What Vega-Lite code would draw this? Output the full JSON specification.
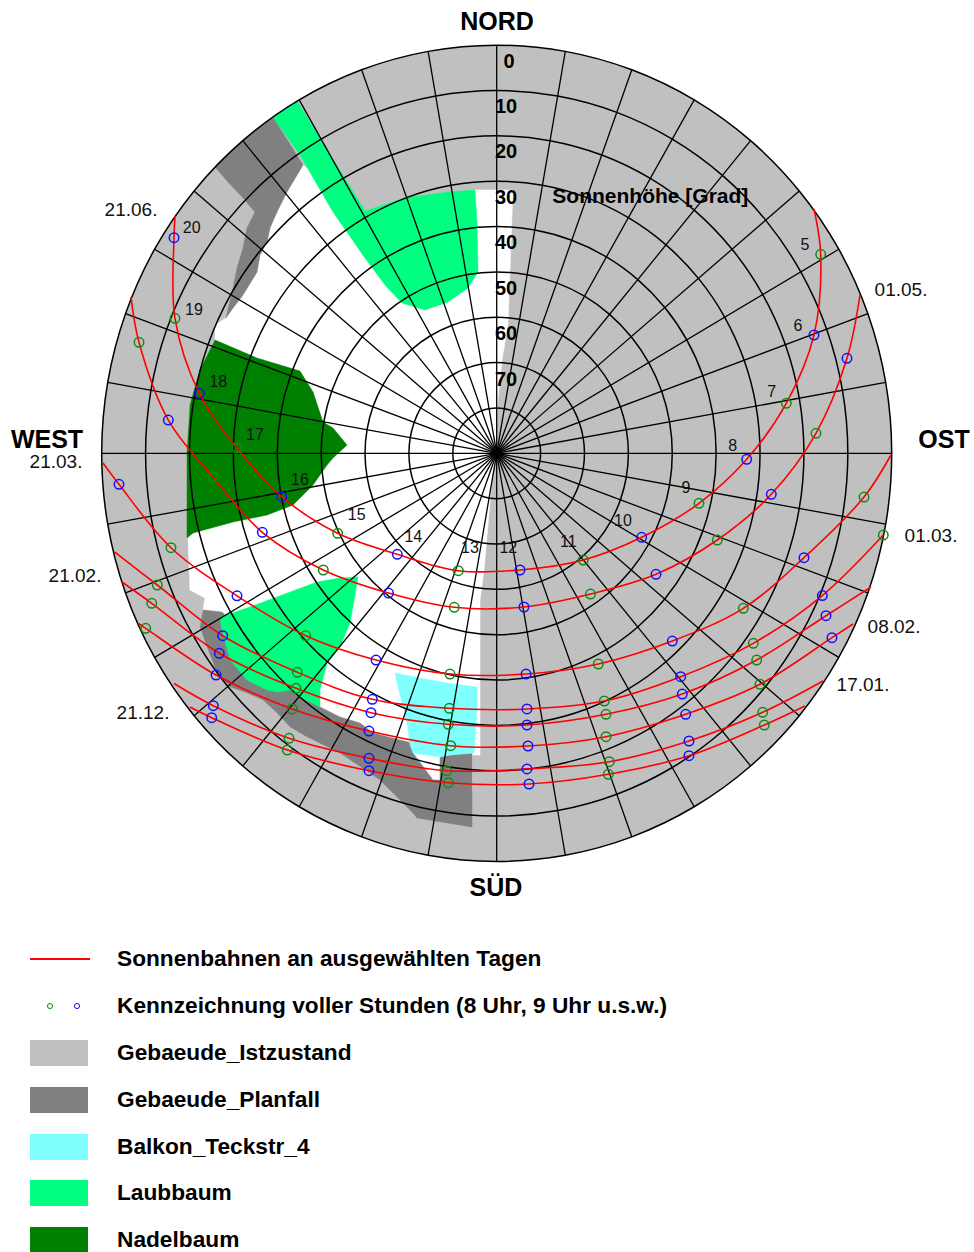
{
"$schema": "https://vega.github.io/schema/vega-lite/v6.json",
"width": 974, "height": 1252, "padding": 0, "autosize": {"type": "none"},
"background": "white",
"config": {"view": {"stroke": null}, "font": "Liberation Sans", "text": {"font": "Liberation Sans"}},
"datasets": {
"grid": [
{"r":90,"i":0,"x":0,"y":90},{"r":90,"i":1,"x":15.63,"y":88.63},{"r":90,"i":2,"x":30.78,"y":84.57},{"r":90,"i":3,"x":45,"y":77.94},{"r":90,"i":4,"x":57.85,"y":68.94},{"r":90,"i":5,"x":68.94,"y":57.85},{"r":90,"i":6,"x":77.94,"y":45},{"r":90,"i":7,"x":84.57,"y":30.78},{"r":90,"i":8,"x":88.63,"y":15.63},{"r":90,"i":9,"x":90,"y":0},{"r":90,"i":10,"x":88.63,"y":-15.63},{"r":90,"i":11,"x":84.57,"y":-30.78},{"r":90,"i":12,"x":77.94,"y":-45},{"r":90,"i":13,"x":68.94,"y":-57.85},{"r":90,"i":14,"x":57.85,"y":-68.94},{"r":90,"i":15,"x":45,"y":-77.94},{"r":90,"i":16,"x":30.78,"y":-84.57},{"r":90,"i":17,"x":15.63,"y":-88.63},{"r":90,"i":18,"x":0,"y":-90},{"r":90,"i":19,"x":-15.63,"y":-88.63},{"r":90,"i":20,"x":-30.78,"y":-84.57},{"r":90,"i":21,"x":-45,"y":-77.94},{"r":90,"i":22,"x":-57.85,"y":-68.94},{"r":90,"i":23,"x":-68.94,"y":-57.85},{"r":90,"i":24,"x":-77.94,"y":-45},{"r":90,"i":25,"x":-84.57,"y":-30.78},{"r":90,"i":26,"x":-88.63,"y":-15.63},{"r":90,"i":27,"x":-90,"y":0},{"r":90,"i":28,"x":-88.63,"y":15.63},{"r":90,"i":29,"x":-84.57,"y":30.78},{"r":90,"i":30,"x":-77.94,"y":45},{"r":90,"i":31,"x":-68.94,"y":57.85},{"r":90,"i":32,"x":-57.85,"y":68.94},{"r":90,"i":33,"x":-45,"y":77.94},{"r":90,"i":34,"x":-30.78,"y":84.57},{"r":90,"i":35,"x":-15.63,"y":88.63},
{"r":80,"i":0,"x":0,"y":80},{"r":80,"i":1,"x":13.89,"y":78.78},{"r":80,"i":2,"x":27.36,"y":75.18},{"r":80,"i":3,"x":40,"y":69.28},{"r":80,"i":4,"x":51.42,"y":61.28},{"r":80,"i":5,"x":61.28,"y":51.42},{"r":80,"i":6,"x":69.28,"y":40},{"r":80,"i":7,"x":75.18,"y":27.36},{"r":80,"i":8,"x":78.78,"y":13.89},{"r":80,"i":9,"x":80,"y":0},{"r":80,"i":10,"x":78.78,"y":-13.89},{"r":80,"i":11,"x":75.18,"y":-27.36},{"r":80,"i":12,"x":69.28,"y":-40},{"r":80,"i":13,"x":61.28,"y":-51.42},{"r":80,"i":14,"x":51.42,"y":-61.28},{"r":80,"i":15,"x":40,"y":-69.28},{"r":80,"i":16,"x":27.36,"y":-75.18},{"r":80,"i":17,"x":13.89,"y":-78.78},{"r":80,"i":18,"x":0,"y":-80},{"r":80,"i":19,"x":-13.89,"y":-78.78},{"r":80,"i":20,"x":-27.36,"y":-75.18},{"r":80,"i":21,"x":-40,"y":-69.28},{"r":80,"i":22,"x":-51.42,"y":-61.28},{"r":80,"i":23,"x":-61.28,"y":-51.42},{"r":80,"i":24,"x":-69.28,"y":-40},{"r":80,"i":25,"x":-75.18,"y":-27.36},{"r":80,"i":26,"x":-78.78,"y":-13.89},{"r":80,"i":27,"x":-80,"y":0},{"r":80,"i":28,"x":-78.78,"y":13.89},{"r":80,"i":29,"x":-75.18,"y":27.36},{"r":80,"i":30,"x":-69.28,"y":40},{"r":80,"i":31,"x":-61.28,"y":51.42},{"r":80,"i":32,"x":-51.42,"y":61.28},{"r":80,"i":33,"x":-40,"y":69.28},{"r":80,"i":34,"x":-27.36,"y":75.18},{"r":80,"i":35,"x":-13.89,"y":78.78},
{"r":70,"i":0,"x":0,"y":70},{"r":70,"i":1,"x":12.16,"y":68.94},{"r":70,"i":2,"x":23.94,"y":65.78},{"r":70,"i":3,"x":35,"y":60.62},{"r":70,"i":4,"x":45,"y":53.62},{"r":70,"i":5,"x":53.62,"y":45},{"r":70,"i":6,"x":60.62,"y":35},{"r":70,"i":7,"x":65.78,"y":23.94},{"r":70,"i":8,"x":68.94,"y":12.16},{"r":70,"i":9,"x":70,"y":0},{"r":70,"i":10,"x":68.94,"y":-12.16},{"r":70,"i":11,"x":65.78,"y":-23.94},{"r":70,"i":12,"x":60.62,"y":-35},{"r":70,"i":13,"x":53.62,"y":-45},{"r":70,"i":14,"x":45,"y":-53.62},{"r":70,"i":15,"x":35,"y":-60.62},{"r":70,"i":16,"x":23.94,"y":-65.78},{"r":70,"i":17,"x":12.16,"y":-68.94},{"r":70,"i":18,"x":0,"y":-70},{"r":70,"i":19,"x":-12.16,"y":-68.94},{"r":70,"i":20,"x":-23.94,"y":-65.78},{"r":70,"i":21,"x":-35,"y":-60.62},{"r":70,"i":22,"x":-45,"y":-53.62},{"r":70,"i":23,"x":-53.62,"y":-45},{"r":70,"i":24,"x":-60.62,"y":-35},{"r":70,"i":25,"x":-65.78,"y":-23.94},{"r":70,"i":26,"x":-68.94,"y":-12.16},{"r":70,"i":27,"x":-70,"y":0},{"r":70,"i":28,"x":-68.94,"y":12.16},{"r":70,"i":29,"x":-65.78,"y":23.94},{"r":70,"i":30,"x":-60.62,"y":35},{"r":70,"i":31,"x":-53.62,"y":45},{"r":70,"i":32,"x":-45,"y":53.62},{"r":70,"i":33,"x":-35,"y":60.62},{"r":70,"i":34,"x":-23.94,"y":65.78},{"r":70,"i":35,"x":-12.16,"y":68.94},
{"r":60,"i":0,"x":0,"y":60},{"r":60,"i":1,"x":10.42,"y":59.09},{"r":60,"i":2,"x":20.52,"y":56.38},{"r":60,"i":3,"x":30,"y":51.96},{"r":60,"i":4,"x":38.57,"y":45.96},{"r":60,"i":5,"x":45.96,"y":38.57},{"r":60,"i":6,"x":51.96,"y":30},{"r":60,"i":7,"x":56.38,"y":20.52},{"r":60,"i":8,"x":59.09,"y":10.42},{"r":60,"i":9,"x":60,"y":0},{"r":60,"i":10,"x":59.09,"y":-10.42},{"r":60,"i":11,"x":56.38,"y":-20.52},{"r":60,"i":12,"x":51.96,"y":-30},{"r":60,"i":13,"x":45.96,"y":-38.57},{"r":60,"i":14,"x":38.57,"y":-45.96},{"r":60,"i":15,"x":30,"y":-51.96},{"r":60,"i":16,"x":20.52,"y":-56.38},{"r":60,"i":17,"x":10.42,"y":-59.09},{"r":60,"i":18,"x":0,"y":-60},{"r":60,"i":19,"x":-10.42,"y":-59.09},{"r":60,"i":20,"x":-20.52,"y":-56.38},{"r":60,"i":21,"x":-30,"y":-51.96},{"r":60,"i":22,"x":-38.57,"y":-45.96},{"r":60,"i":23,"x":-45.96,"y":-38.57},{"r":60,"i":24,"x":-51.96,"y":-30},{"r":60,"i":25,"x":-56.38,"y":-20.52},{"r":60,"i":26,"x":-59.09,"y":-10.42},{"r":60,"i":27,"x":-60,"y":0},{"r":60,"i":28,"x":-59.09,"y":10.42},{"r":60,"i":29,"x":-56.38,"y":20.52},{"r":60,"i":30,"x":-51.96,"y":30},{"r":60,"i":31,"x":-45.96,"y":38.57},{"r":60,"i":32,"x":-38.57,"y":45.96},{"r":60,"i":33,"x":-30,"y":51.96},{"r":60,"i":34,"x":-20.52,"y":56.38},{"r":60,"i":35,"x":-10.42,"y":59.09},
{"r":50,"i":0,"x":0,"y":50},{"r":50,"i":1,"x":8.68,"y":49.24},{"r":50,"i":2,"x":17.1,"y":46.98},{"r":50,"i":3,"x":25,"y":43.3},{"r":50,"i":4,"x":32.14,"y":38.3},{"r":50,"i":5,"x":38.3,"y":32.14},{"r":50,"i":6,"x":43.3,"y":25},{"r":50,"i":7,"x":46.98,"y":17.1},{"r":50,"i":8,"x":49.24,"y":8.68},{"r":50,"i":9,"x":50,"y":0},{"r":50,"i":10,"x":49.24,"y":-8.68},{"r":50,"i":11,"x":46.98,"y":-17.1},{"r":50,"i":12,"x":43.3,"y":-25},{"r":50,"i":13,"x":38.3,"y":-32.14},{"r":50,"i":14,"x":32.14,"y":-38.3},{"r":50,"i":15,"x":25,"y":-43.3},{"r":50,"i":16,"x":17.1,"y":-46.98},{"r":50,"i":17,"x":8.68,"y":-49.24},{"r":50,"i":18,"x":0,"y":-50},{"r":50,"i":19,"x":-8.68,"y":-49.24},{"r":50,"i":20,"x":-17.1,"y":-46.98},{"r":50,"i":21,"x":-25,"y":-43.3},{"r":50,"i":22,"x":-32.14,"y":-38.3},{"r":50,"i":23,"x":-38.3,"y":-32.14},{"r":50,"i":24,"x":-43.3,"y":-25},{"r":50,"i":25,"x":-46.98,"y":-17.1},{"r":50,"i":26,"x":-49.24,"y":-8.68},{"r":50,"i":27,"x":-50,"y":0},{"r":50,"i":28,"x":-49.24,"y":8.68},{"r":50,"i":29,"x":-46.98,"y":17.1},{"r":50,"i":30,"x":-43.3,"y":25},{"r":50,"i":31,"x":-38.3,"y":32.14},{"r":50,"i":32,"x":-32.14,"y":38.3},{"r":50,"i":33,"x":-25,"y":43.3},{"r":50,"i":34,"x":-17.1,"y":46.98},{"r":50,"i":35,"x":-8.68,"y":49.24},
{"r":40,"i":0,"x":0,"y":40},{"r":40,"i":1,"x":6.95,"y":39.39},{"r":40,"i":2,"x":13.68,"y":37.59},{"r":40,"i":3,"x":20,"y":34.64},{"r":40,"i":4,"x":25.71,"y":30.64},{"r":40,"i":5,"x":30.64,"y":25.71},{"r":40,"i":6,"x":34.64,"y":20},{"r":40,"i":7,"x":37.59,"y":13.68},{"r":40,"i":8,"x":39.39,"y":6.95},{"r":40,"i":9,"x":40,"y":0},{"r":40,"i":10,"x":39.39,"y":-6.95},{"r":40,"i":11,"x":37.59,"y":-13.68},{"r":40,"i":12,"x":34.64,"y":-20},{"r":40,"i":13,"x":30.64,"y":-25.71},{"r":40,"i":14,"x":25.71,"y":-30.64},{"r":40,"i":15,"x":20,"y":-34.64},{"r":40,"i":16,"x":13.68,"y":-37.59},{"r":40,"i":17,"x":6.95,"y":-39.39},{"r":40,"i":18,"x":0,"y":-40},{"r":40,"i":19,"x":-6.95,"y":-39.39},{"r":40,"i":20,"x":-13.68,"y":-37.59},{"r":40,"i":21,"x":-20,"y":-34.64},{"r":40,"i":22,"x":-25.71,"y":-30.64},{"r":40,"i":23,"x":-30.64,"y":-25.71},{"r":40,"i":24,"x":-34.64,"y":-20},{"r":40,"i":25,"x":-37.59,"y":-13.68},{"r":40,"i":26,"x":-39.39,"y":-6.95},{"r":40,"i":27,"x":-40,"y":0},{"r":40,"i":28,"x":-39.39,"y":6.95},{"r":40,"i":29,"x":-37.59,"y":13.68},{"r":40,"i":30,"x":-34.64,"y":20},{"r":40,"i":31,"x":-30.64,"y":25.71},{"r":40,"i":32,"x":-25.71,"y":30.64},{"r":40,"i":33,"x":-20,"y":34.64},{"r":40,"i":34,"x":-13.68,"y":37.59},{"r":40,"i":35,"x":-6.95,"y":39.39},
{"r":30,"i":0,"x":0,"y":30},{"r":30,"i":1,"x":5.21,"y":29.54},{"r":30,"i":2,"x":10.26,"y":28.19},{"r":30,"i":3,"x":15,"y":25.98},{"r":30,"i":4,"x":19.28,"y":22.98},{"r":30,"i":5,"x":22.98,"y":19.28},{"r":30,"i":6,"x":25.98,"y":15},{"r":30,"i":7,"x":28.19,"y":10.26},{"r":30,"i":8,"x":29.54,"y":5.21},{"r":30,"i":9,"x":30,"y":0},{"r":30,"i":10,"x":29.54,"y":-5.21},{"r":30,"i":11,"x":28.19,"y":-10.26},{"r":30,"i":12,"x":25.98,"y":-15},{"r":30,"i":13,"x":22.98,"y":-19.28},{"r":30,"i":14,"x":19.28,"y":-22.98},{"r":30,"i":15,"x":15,"y":-25.98},{"r":30,"i":16,"x":10.26,"y":-28.19},{"r":30,"i":17,"x":5.21,"y":-29.54},{"r":30,"i":18,"x":0,"y":-30},{"r":30,"i":19,"x":-5.21,"y":-29.54},{"r":30,"i":20,"x":-10.26,"y":-28.19},{"r":30,"i":21,"x":-15,"y":-25.98},{"r":30,"i":22,"x":-19.28,"y":-22.98},{"r":30,"i":23,"x":-22.98,"y":-19.28},{"r":30,"i":24,"x":-25.98,"y":-15},{"r":30,"i":25,"x":-28.19,"y":-10.26},{"r":30,"i":26,"x":-29.54,"y":-5.21},{"r":30,"i":27,"x":-30,"y":0},{"r":30,"i":28,"x":-29.54,"y":5.21},{"r":30,"i":29,"x":-28.19,"y":10.26},{"r":30,"i":30,"x":-25.98,"y":15},{"r":30,"i":31,"x":-22.98,"y":19.28},{"r":30,"i":32,"x":-19.28,"y":22.98},{"r":30,"i":33,"x":-15,"y":25.98},{"r":30,"i":34,"x":-10.26,"y":28.19},{"r":30,"i":35,"x":-5.21,"y":29.54},
{"r":20,"i":0,"x":0,"y":20},{"r":20,"i":1,"x":3.47,"y":19.7},{"r":20,"i":2,"x":6.84,"y":18.79},{"r":20,"i":3,"x":10,"y":17.32},{"r":20,"i":4,"x":12.86,"y":15.32},{"r":20,"i":5,"x":15.32,"y":12.86},{"r":20,"i":6,"x":17.32,"y":10},{"r":20,"i":7,"x":18.79,"y":6.84},{"r":20,"i":8,"x":19.7,"y":3.47},{"r":20,"i":9,"x":20,"y":0},{"r":20,"i":10,"x":19.7,"y":-3.47},{"r":20,"i":11,"x":18.79,"y":-6.84},{"r":20,"i":12,"x":17.32,"y":-10},{"r":20,"i":13,"x":15.32,"y":-12.86},{"r":20,"i":14,"x":12.86,"y":-15.32},{"r":20,"i":15,"x":10,"y":-17.32},{"r":20,"i":16,"x":6.84,"y":-18.79},{"r":20,"i":17,"x":3.47,"y":-19.7},{"r":20,"i":18,"x":0,"y":-20},{"r":20,"i":19,"x":-3.47,"y":-19.7},{"r":20,"i":20,"x":-6.84,"y":-18.79},{"r":20,"i":21,"x":-10,"y":-17.32},{"r":20,"i":22,"x":-12.86,"y":-15.32},{"r":20,"i":23,"x":-15.32,"y":-12.86},{"r":20,"i":24,"x":-17.32,"y":-10},{"r":20,"i":25,"x":-18.79,"y":-6.84},{"r":20,"i":26,"x":-19.7,"y":-3.47},{"r":20,"i":27,"x":-20,"y":0},{"r":20,"i":28,"x":-19.7,"y":3.47},{"r":20,"i":29,"x":-18.79,"y":6.84},{"r":20,"i":30,"x":-17.32,"y":10},{"r":20,"i":31,"x":-15.32,"y":12.86},{"r":20,"i":32,"x":-12.86,"y":15.32},{"r":20,"i":33,"x":-10,"y":17.32},{"r":20,"i":34,"x":-6.84,"y":18.79},{"r":20,"i":35,"x":-3.47,"y":19.7},
{"r":10,"i":0,"x":0,"y":10},{"r":10,"i":1,"x":1.74,"y":9.85},{"r":10,"i":2,"x":3.42,"y":9.4},{"r":10,"i":3,"x":5,"y":8.66},{"r":10,"i":4,"x":6.43,"y":7.66},{"r":10,"i":5,"x":7.66,"y":6.43},{"r":10,"i":6,"x":8.66,"y":5},{"r":10,"i":7,"x":9.4,"y":3.42},{"r":10,"i":8,"x":9.85,"y":1.74},{"r":10,"i":9,"x":10,"y":0},{"r":10,"i":10,"x":9.85,"y":-1.74},{"r":10,"i":11,"x":9.4,"y":-3.42},{"r":10,"i":12,"x":8.66,"y":-5},{"r":10,"i":13,"x":7.66,"y":-6.43},{"r":10,"i":14,"x":6.43,"y":-7.66},{"r":10,"i":15,"x":5,"y":-8.66},{"r":10,"i":16,"x":3.42,"y":-9.4},{"r":10,"i":17,"x":1.74,"y":-9.85},{"r":10,"i":18,"x":0,"y":-10},{"r":10,"i":19,"x":-1.74,"y":-9.85},{"r":10,"i":20,"x":-3.42,"y":-9.4},{"r":10,"i":21,"x":-5,"y":-8.66},{"r":10,"i":22,"x":-6.43,"y":-7.66},{"r":10,"i":23,"x":-7.66,"y":-6.43},{"r":10,"i":24,"x":-8.66,"y":-5},{"r":10,"i":25,"x":-9.4,"y":-3.42},{"r":10,"i":26,"x":-9.85,"y":-1.74},{"r":10,"i":27,"x":-10,"y":0},{"r":10,"i":28,"x":-9.85,"y":1.74},{"r":10,"i":29,"x":-9.4,"y":3.42},{"r":10,"i":30,"x":-8.66,"y":5},{"r":10,"i":31,"x":-7.66,"y":6.43},{"r":10,"i":32,"x":-6.43,"y":7.66},{"r":10,"i":33,"x":-5,"y":8.66},{"r":10,"i":34,"x":-3.42,"y":9.4},{"r":10,"i":35,"x":-1.74,"y":9.85}
],
"fills": [
{"g":"white","i":1,"x":-4.94,"y":58.06},{"g":"white","i":2,"x":3.71,"y":58.06},{"g":"white","i":3,"x":2.57,"y":28.29},{"g":"white","i":4,"x":1.21,"y":20.57},{"g":"white","i":5,"x":0.07,"y":9.55},{"g":"white","i":6,"x":-0.16,"y":0.07},{"g":"white","i":7,"x":-1.07,"y":-5.89},{"g":"white","i":8,"x":-1.98,"y":-15.81},{"g":"white","i":9,"x":-2.89,"y":-25.73},{"g":"white","i":10,"x":-3.8,"y":-32.35},{"g":"white","i":11,"x":-3.8,"y":-66.53},{"g":"white","i":12,"x":-5.63,"y":-66.53},{"g":"white","i":13,"x":-5.63,"y":-74.25},{"g":"white","i":14,"x":-19.07,"y":-74.25},{"g":"white","i":15,"x":-26.59,"y":-72.04},{"g":"white","i":16,"x":-35.7,"y":-66.09},{"g":"white","i":17,"x":-43.22,"y":-62.56},{"g":"white","i":18,"x":-47.09,"y":-60.35},{"g":"white","i":19,"x":-50.06,"y":-57.27},{"g":"white","i":20,"x":-53.25,"y":-54.4},{"g":"white","i":21,"x":-56.89,"y":-52.86},{"g":"white","i":22,"x":-60.76,"y":-51.53},{"g":"white","i":23,"x":-63.73,"y":-48.45},{"g":"white","i":24,"x":-66.01,"y":-42.71},{"g":"white","i":25,"x":-67.6,"y":-38.3},{"g":"white","i":26,"x":-66.92,"y":-34.55},{"g":"white","i":27,"x":-66.46,"y":-31.91},{"g":"white","i":28,"x":-69.88,"y":-30.14},{"g":"white","i":29,"x":-70.33,"y":-18.68},{"g":"white","i":30,"x":-70.56,"y":0.29},{"g":"white","i":31,"x":-69.88,"y":10.65},{"g":"white","i":32,"x":-64.18,"y":24.98},{"g":"white","i":33,"x":-64.18,"y":28.29},{"g":"white","i":34,"x":-61.68,"y":29.84},{"g":"white","i":35,"x":-60.08,"y":32.04},{"g":"white","i":36,"x":-57.8,"y":34.91},{"g":"white","i":37,"x":-54.61,"y":39.98},{"g":"white","i":38,"x":-53.93,"y":43.73},{"g":"white","i":39,"x":-52.33,"y":46.59},{"g":"white","i":40,"x":-51.65,"y":49.68},{"g":"white","i":41,"x":-50.06,"y":53.21},{"g":"white","i":42,"x":-47.78,"y":57.62},{"g":"white","i":43,"x":-44.13,"y":63.57},{"g":"white","i":44,"x":-30.01,"y":53.43},
{"g":"dgNW","i":1,"x":-64.18,"y":63.13},{"g":"dgNW","i":2,"x":-57.58,"y":69.09},{"g":"dgNW","i":3,"x":-50.97,"y":74.16},{"g":"dgNW","i":4,"x":-44.13,"y":63.57},{"g":"dgNW","i":5,"x":-47.78,"y":57.62},{"g":"dgNW","i":6,"x":-50.06,"y":53.21},{"g":"dgNW","i":7,"x":-51.65,"y":49.68},{"g":"dgNW","i":8,"x":-52.33,"y":46.59},{"g":"dgNW","i":9,"x":-53.93,"y":43.73},{"g":"dgNW","i":10,"x":-54.61,"y":39.98},{"g":"dgNW","i":11,"x":-57.8,"y":34.91},{"g":"dgNW","i":12,"x":-60.08,"y":32.04},{"g":"dgNW","i":13,"x":-61.68,"y":29.84},{"g":"dgNW","i":14,"x":-60.08,"y":36.45},{"g":"dgNW","i":15,"x":-59.17,"y":40.86},{"g":"dgNW","i":16,"x":-57.8,"y":45.27},{"g":"dgNW","i":17,"x":-56.89,"y":49.68},{"g":"dgNW","i":18,"x":-55.07,"y":53.21},{"g":"dgNW","i":19,"x":-57.8,"y":56.3},{"g":"dgNW","i":20,"x":-61.22,"y":59.82},
{"g":"dgSW","i":1,"x":-66.92,"y":-34.55},{"g":"dgSW","i":2,"x":-62.59,"y":-35.0},{"g":"dgSW","i":3,"x":-40.26,"y":-55.94},{"g":"dgSW","i":4,"x":-35.7,"y":-58.15},{"g":"dgSW","i":5,"x":-31.15,"y":-59.47},{"g":"dgSW","i":6,"x":-28.18,"y":-61.68},{"g":"dgSW","i":7,"x":-22.03,"y":-63.22},{"g":"dgSW","i":8,"x":-19.3,"y":-63.88},{"g":"dgSW","i":9,"x":-19.07,"y":-66.09},{"g":"dgSW","i":10,"x":-14.51,"y":-72.04},{"g":"dgSW","i":11,"x":-12.92,"y":-72.04},{"g":"dgSW","i":12,"x":-12.92,"y":-66.97},{"g":"dgSW","i":13,"x":-10.64,"y":-66.53},{"g":"dgSW","i":14,"x":-5.63,"y":-66.09},{"g":"dgSW","i":15,"x":-5.63,"y":-82.4},{"g":"dgSW","i":16,"x":-18.16,"y":-80.42},{"g":"dgSW","i":17,"x":-19.07,"y":-79.32},{"g":"dgSW","i":18,"x":-26.59,"y":-72.04},{"g":"dgSW","i":19,"x":-35.7,"y":-66.09},{"g":"dgSW","i":20,"x":-43.22,"y":-62.56},{"g":"dgSW","i":21,"x":-47.09,"y":-60.35},{"g":"dgSW","i":22,"x":-50.06,"y":-57.27},{"g":"dgSW","i":23,"x":-53.25,"y":-54.4},{"g":"dgSW","i":24,"x":-56.89,"y":-52.86},{"g":"dgSW","i":25,"x":-60.76,"y":-51.53},{"g":"dgSW","i":26,"x":-63.73,"y":-48.45},{"g":"dgSW","i":27,"x":-66.01,"y":-42.71},{"g":"dgSW","i":28,"x":-67.6,"y":-38.3},
{"g":"cyan","i":1,"x":-23.17,"y":-48.45},{"g":"cyan","i":2,"x":-17.48,"y":-49.55},{"g":"cyan","i":3,"x":-11.32,"y":-50.65},{"g":"cyan","i":4,"x":-4.49,"y":-51.53},{"g":"cyan","i":5,"x":-4.49,"y":-56.61},{"g":"cyan","i":6,"x":-5.17,"y":-66.09},{"g":"cyan","i":7,"x":-10.64,"y":-66.53},{"g":"cyan","i":8,"x":-12.92,"y":-66.97},{"g":"cyan","i":9,"x":-19.07,"y":-66.09},{"g":"cyan","i":10,"x":-19.75,"y":-64.32},{"g":"cyan","i":11,"x":-20.44,"y":-59.25},{"g":"cyan","i":12,"x":-22.03,"y":-53.3},
{"g":"laubN","i":1,"x":-50.97,"y":74.16},{"g":"laubN","i":2,"x":-45.5,"y":77.69},{"g":"laubN","i":3,"x":-30.01,"y":53.43},{"g":"laubN","i":4,"x":-20.89,"y":56.3},{"g":"laubN","i":5,"x":-11.1,"y":57.62},{"g":"laubN","i":6,"x":-4.94,"y":58.06},{"g":"laubN","i":7,"x":-4.49,"y":51.0},{"g":"laubN","i":8,"x":-4.26,"y":39.98},{"g":"laubN","i":9,"x":-6.54,"y":36.45},{"g":"laubN","i":10,"x":-11.1,"y":33.36},{"g":"laubN","i":11,"x":-16.34,"y":31.6},{"g":"laubN","i":12,"x":-21.58,"y":33.14},{"g":"laubN","i":13,"x":-25.45,"y":37.11},{"g":"laubN","i":14,"x":-30.01,"y":43.07},{"g":"laubN","i":15,"x":-37.3,"y":53.21},{"g":"laubN","i":16,"x":-44.82,"y":65.78},
{"g":"laubSW","i":1,"x":-63.04,"y":-36.1},{"g":"laubSW","i":2,"x":-56.21,"y":-33.89},{"g":"laubSW","i":3,"x":-40.94,"y":-28.38},{"g":"laubSW","i":4,"x":-35.7,"y":-27.5},{"g":"laubSW","i":5,"x":-31.6,"y":-27.28},{"g":"laubSW","i":6,"x":-32.29,"y":-31.25},{"g":"laubSW","i":7,"x":-33.42,"y":-37.42},{"g":"laubSW","i":8,"x":-35.7,"y":-42.71},{"g":"laubSW","i":9,"x":-38.66,"y":-46.24},{"g":"laubSW","i":10,"x":-40.26,"y":-52.19},{"g":"laubSW","i":11,"x":-40.26,"y":-55.94},{"g":"laubSW","i":12,"x":-44.82,"y":-53.74},{"g":"laubSW","i":13,"x":-47.09,"y":-52.19},{"g":"laubSW","i":14,"x":-50.06,"y":-52.64},{"g":"laubSW","i":15,"x":-52.33,"y":-52.19},{"g":"laubSW","i":16,"x":-56.89,"y":-49.99},{"g":"laubSW","i":17,"x":-60.76,"y":-45.58},{"g":"laubSW","i":18,"x":-62.59,"y":-38.96},
{"g":"nadel","i":1,"x":-64.18,"y":24.98},{"g":"nadel","i":2,"x":-54.61,"y":21.01},{"g":"nadel","i":3,"x":-44.82,"y":18.15},{"g":"nadel","i":4,"x":-41.85,"y":13.52},{"g":"nadel","i":5,"x":-39.58,"y":6.9},{"g":"nadel","i":6,"x":-37.3,"y":5.58},{"g":"nadel","i":7,"x":-34.11,"y":1.83},{"g":"nadel","i":8,"x":-37.3,"y":-1.04},{"g":"nadel","i":9,"x":-38.66,"y":-2.58},{"g":"nadel","i":10,"x":-41.85,"y":-6.99},{"g":"nadel","i":11,"x":-46.41,"y":-11.4},{"g":"nadel","i":12,"x":-52.33,"y":-13.61},{"g":"nadel","i":13,"x":-60.08,"y":-15.15},{"g":"nadel","i":14,"x":-69.19,"y":-17.57},{"g":"nadel","i":15,"x":-70.56,"y":-18.68},{"g":"nadel","i":16,"x":-70.56,"y":0.29},{"g":"nadel","i":17,"x":-69.88,"y":10.65},{"g":"nadel","i":18,"x":-67.6,"y":18.37}
],
"sun": [
{"d":"21.06.","i":0,"k":"e","x":72.29,"y":53.87},{"d":"21.06.","i":1,"k":"h","h":5,"x":73.82,"y":43.88},{"d":"21.06.","i":2,"k":"h","h":6,"x":72.29,"y":26.09},{"d":"21.06.","i":3,"k":"h","h":7,"x":65.98,"y":11.03},{"d":"21.06.","i":4,"k":"h","h":8,"x":56.96,"y":-1.32},{"d":"21.06.","i":5,"k":"h","h":9,"x":46.09,"y":-11.03},{"d":"21.06.","i":6,"k":"h","h":10,"x":33.04,"y":-18.52},{"d":"21.06.","i":7,"k":"h","h":11,"x":19.73,"y":-23.53},{"d":"21.06.","i":8,"k":"h","h":12,"x":5.31,"y":-25.73},{"d":"21.06.","i":9,"k":"h","h":13,"x":-8.75,"y":-25.89},{"d":"21.06.","i":10,"k":"h","h":14,"x":-22.65,"y":-22.27},{"d":"21.06.","i":11,"k":"h","h":15,"x":-36.23,"y":-17.64},{"d":"21.06.","i":12,"k":"h","h":16,"x":-48.99,"y":-9.57},{"d":"21.06.","i":13,"k":"h","h":17,"x":-59.17,"y":1.17},{"d":"21.06.","i":14,"k":"h","h":18,"x":-67.76,"y":13.23},{"d":"21.06.","i":15,"k":"h","h":19,"x":-73.3,"y":29.77},{"d":"21.06.","i":16,"k":"h","h":20,"x":-73.52,"y":47.54},{"d":"21.06.","i":17,"k":"e","x":-73.3,"y":52.33},
{"d":"01.05.","i":0,"k":"e","x":82.77,"y":34.91},{"d":"01.05.","i":1,"k":"h","h":6,"x":79.81,"y":20.95},{"d":"01.05.","i":2,"k":"h","h":7,"x":72.75,"y":4.41},{"d":"01.05.","i":3,"k":"h","h":8,"x":62.56,"y":-9.04},{"d":"01.05.","i":4,"k":"h","h":9,"x":50.26,"y":-19.12},{"d":"01.05.","i":5,"k":"h","h":10,"x":36.3,"y":-26.68},{"d":"01.05.","i":6,"k":"h","h":11,"x":21.37,"y":-31.03},{"d":"01.05.","i":7,"k":"h","h":12,"x":6.22,"y":-33.89},{"d":"01.05.","i":8,"k":"h","h":13,"x":-9.66,"y":-33.96},{"d":"01.05.","i":9,"k":"h","h":14,"x":-24.65,"y":-30.81},{"d":"01.05.","i":10,"k":"h","h":15,"x":-39.51,"y":-25.73},{"d":"01.05.","i":11,"k":"h","h":16,"x":-53.41,"y":-17.42},{"d":"01.05.","i":12,"k":"h","h":17,"x":-64.64,"y":-5.23},{"d":"01.05.","i":13,"k":"h","h":18,"x":-74.82,"y":7.34},{"d":"01.05.","i":14,"k":"h","h":19,"x":-81.5,"y":24.48},{"d":"01.05.","i":15,"k":"e","x":-83.32,"y":34.47},
{"d":"21.03.","i":0,"k":"e","x":89.84,"y":-0.37},{"d":"21.03.","i":1,"k":"h","h":7,"x":83.69,"y":-9.64},{"d":"21.03.","i":2,"k":"h","h":8,"x":70.01,"y":-23.02},{"d":"21.03.","i":3,"k":"h","h":9,"x":56.19,"y":-34.18},{"d":"21.03.","i":4,"k":"h","h":10,"x":40.01,"y":-41.39},{"d":"21.03.","i":5,"k":"h","h":11,"x":23.15,"y":-46.46},{"d":"21.03.","i":6,"k":"h","h":12,"x":6.68,"y":-48.67},{"d":"21.03.","i":7,"k":"h","h":13,"x":-10.64,"y":-48.67},{"d":"21.03.","i":8,"k":"h","h":14,"x":-27.5,"y":-45.58},{"d":"21.03.","i":9,"k":"h","h":15,"x":-43.52,"y":-40.22},{"d":"21.03.","i":10,"k":"h","h":16,"x":-59.17,"y":-31.42},{"d":"21.03.","i":11,"k":"h","h":17,"x":-74.21,"y":-20.82},{"d":"21.03.","i":12,"k":"h","h":18,"x":-86.06,"y":-6.84},{"d":"21.03.","i":13,"k":"e","x":-89.7,"y":-2.14},
{"d":"01.03.","i":0,"k":"h","h":7,"x":88.08,"y":-18.02},{"d":"01.03.","i":1,"k":"h","h":8,"x":74.19,"y":-31.36},{"d":"01.03.","i":2,"k":"h","h":9,"x":58.46,"y":-41.9},{"d":"01.03.","i":3,"k":"h","h":10,"x":41.92,"y":-49.26},{"d":"01.03.","i":4,"k":"h","h":11,"x":24.52,"y":-54.62},{"d":"01.03.","i":5,"k":"h","h":12,"x":6.9,"y":-56.38},{"d":"01.03.","i":6,"k":"h","h":13,"x":-10.8,"y":-56.23},{"d":"01.03.","i":7,"k":"h","h":14,"x":-28.34,"y":-54.25},{"d":"01.03.","i":8,"k":"h","h":15,"x":-45.43,"y":-48.29},{"d":"01.03.","i":9,"k":"h","h":16,"x":-62.43,"y":-40.22},{"d":"01.03.","i":10,"k":"h","h":17,"x":-77.33,"y":-29.04},{"d":"01.03.","i":11,"k":"e","x":-87.08,"y":-21.76},
{"d":"21.02.","i":0,"k":"e","x":85.28,"y":-29.48},{"d":"21.02.","i":1,"k":"h","h":8,"x":75.03,"y":-35.81},{"d":"21.02.","i":2,"k":"h","h":9,"x":59.24,"y":-45.58},{"d":"21.02.","i":3,"k":"h","h":10,"x":42.29,"y":-53.08},{"d":"21.02.","i":4,"k":"h","h":11,"x":24.9,"y":-57.55},{"d":"21.02.","i":5,"k":"h","h":12,"x":6.9,"y":-59.91},{"d":"21.02.","i":6,"k":"h","h":13,"x":-11.03,"y":-59.76},{"d":"21.02.","i":7,"k":"h","h":14,"x":-28.64,"y":-57.2},{"d":"21.02.","i":8,"k":"h","h":15,"x":-45.73,"y":-51.82},{"d":"21.02.","i":9,"k":"h","h":16,"x":-63.2,"y":-44.1},{"d":"21.02.","i":10,"k":"h","h":17,"x":-78.6,"y":-33.08},{"d":"21.02.","i":11,"k":"e","x":-85.37,"y":-28.38},
{"d":"08.02.","i":0,"k":"e","x":81.18,"y":-37.64},{"d":"08.02.","i":1,"k":"h","h":8,"x":76.39,"y":-40.66},{"d":"08.02.","i":2,"k":"h","h":9,"x":59.99,"y":-50.94},{"d":"08.02.","i":3,"k":"h","h":10,"x":43.06,"y":-57.55},{"d":"08.02.","i":4,"k":"h","h":11,"x":24.9,"y":-62.49},{"d":"08.02.","i":5,"k":"h","h":12,"x":7.13,"y":-64.54},{"d":"08.02.","i":6,"k":"h","h":13,"x":-10.48,"y":-64.48},{"d":"08.02.","i":7,"k":"h","h":14,"x":-29.1,"y":-61.24},{"d":"08.02.","i":8,"k":"h","h":15,"x":-46.57,"y":-56.38},{"d":"08.02.","i":9,"k":"h","h":16,"x":-63.95,"y":-48.89},{"d":"08.02.","i":10,"k":"h","h":17,"x":-79.97,"y":-38.59},{"d":"08.02.","i":11,"k":"e","x":-81.61,"y":-37.53},
{"d":"17.01.","i":0,"k":"e","x":74.34,"y":-50.21},{"d":"17.01.","i":1,"k":"h","h":9,"x":60.61,"y":-57.11},{"d":"17.01.","i":2,"k":"h","h":10,"x":43.81,"y":-63.44},{"d":"17.01.","i":3,"k":"h","h":11,"x":25.65,"y":-68.01},{"d":"17.01.","i":4,"k":"h","h":12,"x":6.9,"y":-69.61},{"d":"17.01.","i":5,"k":"h","h":13,"x":-11.39,"y":-69.99},{"d":"17.01.","i":6,"k":"h","h":14,"x":-29.1,"y":-67.26},{"d":"17.01.","i":7,"k":"h","h":15,"x":-47.32,"y":-62.85},{"d":"17.01.","i":8,"k":"h","h":16,"x":-64.57,"y":-55.66},{"d":"17.01.","i":9,"k":"e","x":-73.52,"y":-50.76},
{"d":"21.12.","i":0,"k":"e","x":70.24,"y":-55.72},{"d":"21.12.","i":1,"k":"h","h":9,"x":60.97,"y":-59.91},{"d":"21.12.","i":2,"k":"h","h":10,"x":43.81,"y":-66.68},{"d":"21.12.","i":3,"k":"h","h":11,"x":25.43,"y":-70.78},{"d":"21.12.","i":4,"k":"h","h":12,"x":7.36,"y":-72.92},{"d":"21.12.","i":5,"k":"h","h":13,"x":-11.03,"y":-72.64},{"d":"21.12.","i":6,"k":"h","h":14,"x":-29.1,"y":-69.99},{"d":"21.12.","i":7,"k":"h","h":15,"x":-47.71,"y":-65.43},{"d":"21.12.","i":8,"k":"h","h":16,"x":-64.94,"y":-58.3},{"d":"21.12.","i":9,"k":"e","x":-69.88,"y":-55.94}
],
"labels": [
{"t":"5","k":"hour","x":70.24,"y":45.93},{"t":"6","k":"hour","x":68.65,"y":28.07},{"t":"7","k":"hour","x":62.66,"y":13.58},{"t":"8","k":"hour","x":53.77,"y":1.68},{"t":"9","k":"hour","x":43.13,"y":-7.72},{"t":"10","k":"hour","x":28.78,"y":-14.93},{"t":"11","k":"hour","x":16.31,"y":-19.49},{"t":"12","k":"hour","x":2.64,"y":-20.88},{"t":"13","k":"hour","x":-6.08,"y":-20.88},{"t":"14","k":"hour","x":-19.0,"y":-18.39},{"t":"15","k":"hour","x":-31.9,"y":-13.61},{"t":"16","k":"hour","x":-44.82,"y":-5.89},{"t":"17","k":"hour","x":-55.07,"y":4.04},{"t":"18","k":"hour","x":-63.43,"y":15.79},{"t":"19","k":"hour","x":-68.97,"y":31.6},{"t":"20","k":"hour","x":-69.49,"y":49.75},
{"t":"21.06.","k":"date","x":-83.32,"y":53.65},{"t":"01.05.","k":"date","x":92.12,"y":36.01},{"t":"21.03.","k":"date","x":-100.41,"y":-1.92},{"t":"01.03.","k":"date","x":98.95,"y":-18.24},{"t":"21.02.","k":"date","x":-96.08,"y":-27.06},{"t":"08.02.","k":"date","x":90.52,"y":-38.3},{"t":"17.01.","k":"date","x":83.46,"y":-51.09},{"t":"21.12.","k":"date","x":-80.59,"y":-57.27},
{"t":"NORD","k":"dir","x":0.07,"y":95.11},{"t":"OST","k":"dir","x":101.91,"y":2.93},{"t":"SÜD","k":"dir","x":-0.16,"y":-95.86},{"t":"WEST","k":"dir","x":-102.46,"y":2.93},
{"t":"0","k":"alt","x":2.8,"y":86.29},{"t":"10","k":"alt","x":2.12,"y":76.36},{"t":"20","k":"alt","x":2.12,"y":66.44},{"t":"30","k":"alt","x":2.12,"y":56.3},{"t":"40","k":"alt","x":2.12,"y":46.37},{"t":"50","k":"alt","x":2.12,"y":36.23},{"t":"60","k":"alt","x":2.12,"y":26.31},{"t":"70","k":"alt","x":2.12,"y":16.16},
{"t":"Sonnenhöhe [Grad]","k":"title","x":35.0,"y":56.52}
],
"legline": [{"x":-106.33,"y":-111.51},{"x":-92.66,"y":-111.51}],
"legdots": [{"c":"odd","x":-101.78,"y":-121.88},{"c":"even","x":-95.62,"y":-121.88}],
"swatches": [
{"name":"Gebaeude_Istzustand","x1":-106.33,"x2":-93.12,"y1":-129.37,"y2":-135.11},
{"name":"Gebaeude_Planfall","x1":-106.33,"x2":-93.12,"y1":-139.74,"y2":-145.47},
{"name":"Balkon_Teckstr_4","x1":-106.33,"x2":-93.12,"y1":-150.1,"y2":-155.84},
{"name":"Laubbaum","x1":-106.33,"x2":-93.12,"y1":-160.24,"y2":-165.98},
{"name":"Nadelbaum","x1":-106.33,"x2":-93.12,"y1":-170.61,"y2":-176.34}
],
"legtext": [
{"t":"Sonnenbahnen an ausgewählten Tagen","x":-86.51,"y":-111.51},
{"t":"Kennzeichnung voller Stunden (8 Uhr, 9 Uhr u.s.w.)","x":-86.51,"y":-121.88},
{"t":"Gebaeude_Istzustand","x":-86.51,"y":-132.24},
{"t":"Gebaeude_Planfall","x":-86.51,"y":-142.6},
{"t":"Balkon_Teckstr_4","x":-86.51,"y":-152.97},
{"t":"Laubbaum","x":-86.51,"y":-163.11},
{"t":"Nadelbaum","x":-86.51,"y":-173.48}
]
},
"layer": [
{"data":{"name":"grid"},"transform":[{"filter":"datum.r == 90"}],
 "mark":{"type":"line","interpolate":"cardinal-closed","fill":"#c0c0c0","stroke":"#c0c0c0","strokeWidth":0.5},
 "encoding":{"x":{"field":"x","type":"quantitative","scale":{"domain":[-113.17,108.75],"nice":false,"zero":false},"axis":null},
  "y":{"field":"y","type":"quantitative","scale":{"domain":[-176.12,99.96],"nice":false,"zero":false},"axis":null},
  "order":{"field":"i","type":"quantitative"}}},
{"data":{"name":"fills"},"transform":[{"filter":"datum.g == 'white'"}],
 "mark":{"type":"line","interpolate":"linear-closed","fill":"#ffffff","stroke":"#ffffff","strokeWidth":0.5},
 "encoding":{"x":{"field":"x","type":"quantitative","scale":{"domain":[-113.17,108.75],"nice":false,"zero":false},"axis":null},
  "y":{"field":"y","type":"quantitative","scale":{"domain":[-176.12,99.96],"nice":false,"zero":false},"axis":null},
  "order":{"field":"i","type":"quantitative"}}},
{"data":{"name":"fills"},"transform":[{"filter":"datum.g == 'dgNW' || datum.g == 'dgSW'"}],
 "mark":{"type":"line","interpolate":"linear-closed","fill":"#808080","stroke":"#808080","strokeWidth":0.5},
 "encoding":{"x":{"field":"x","type":"quantitative","scale":{"domain":[-113.17,108.75],"nice":false,"zero":false},"axis":null},
  "y":{"field":"y","type":"quantitative","scale":{"domain":[-176.12,99.96],"nice":false,"zero":false},"axis":null},
  "detail":{"field":"g","type":"nominal"},"order":{"field":"i","type":"quantitative"}}},
{"data":{"name":"fills"},"transform":[{"filter":"datum.g == 'cyan'"}],
 "mark":{"type":"line","interpolate":"linear-closed","fill":"#80ffff","stroke":"#80ffff","strokeWidth":0.5},
 "encoding":{"x":{"field":"x","type":"quantitative","scale":{"domain":[-113.17,108.75],"nice":false,"zero":false},"axis":null},
  "y":{"field":"y","type":"quantitative","scale":{"domain":[-176.12,99.96],"nice":false,"zero":false},"axis":null},
  "order":{"field":"i","type":"quantitative"}}},
{"data":{"name":"fills"},"transform":[{"filter":"datum.g == 'laubN' || datum.g == 'laubSW'"}],
 "mark":{"type":"line","interpolate":"linear-closed","fill":"#00ff80","stroke":"#00ff80","strokeWidth":0.5},
 "encoding":{"x":{"field":"x","type":"quantitative","scale":{"domain":[-113.17,108.75],"nice":false,"zero":false},"axis":null},
  "y":{"field":"y","type":"quantitative","scale":{"domain":[-176.12,99.96],"nice":false,"zero":false},"axis":null},
  "detail":{"field":"g","type":"nominal"},"order":{"field":"i","type":"quantitative"}}},
{"data":{"name":"fills"},"transform":[{"filter":"datum.g == 'nadel'"}],
 "mark":{"type":"line","interpolate":"linear-closed","fill":"#008000","stroke":"#008000","strokeWidth":0.5},
 "encoding":{"x":{"field":"x","type":"quantitative","scale":{"domain":[-113.17,108.75],"nice":false,"zero":false},"axis":null},
  "y":{"field":"y","type":"quantitative","scale":{"domain":[-176.12,99.96],"nice":false,"zero":false},"axis":null},
  "order":{"field":"i","type":"quantitative"}}},
{"data":{"name":"grid"},
 "mark":{"type":"line","interpolate":"cardinal-closed","stroke":"#000000","strokeWidth":1.5},
 "encoding":{"x":{"field":"x","type":"quantitative","scale":{"domain":[-113.17,108.75],"nice":false,"zero":false},"axis":null},
  "y":{"field":"y","type":"quantitative","scale":{"domain":[-176.12,99.96],"nice":false,"zero":false},"axis":null},
  "detail":{"field":"r","type":"nominal"},"order":{"field":"i","type":"quantitative"}}},
{"data":{"name":"grid"},"transform":[{"filter":"datum.r == 90"}],
 "mark":{"type":"rule","stroke":"#000000","strokeWidth":1.3},
 "encoding":{"x":{"field":"x","type":"quantitative","scale":{"domain":[-113.17,108.75],"nice":false,"zero":false},"axis":null},
  "y":{"field":"y","type":"quantitative","scale":{"domain":[-176.12,99.96],"nice":false,"zero":false},"axis":null},
  "x2":{"datum":0},"y2":{"datum":0}}},
{"data":{"name":"sun"},
 "mark":{"type":"line","interpolate":"catmull-rom","stroke":"#ff0000","strokeWidth":1.6},
 "encoding":{"x":{"field":"x","type":"quantitative","scale":{"domain":[-113.17,108.75],"nice":false,"zero":false},"axis":null},
  "y":{"field":"y","type":"quantitative","scale":{"domain":[-176.12,99.96],"nice":false,"zero":false},"axis":null},
  "detail":{"field":"d","type":"nominal"},"order":{"field":"i","type":"quantitative"}}},
{"data":{"name":"sun"},"transform":[{"filter":"datum.k == 'h' && datum.h % 2 == 0"}],
 "mark":{"type":"point","shape":"circle","filled":false,"stroke":"#1010ff","strokeWidth":1.5,"size":90,"opacity":1},
 "encoding":{"x":{"field":"x","type":"quantitative","scale":{"domain":[-113.17,108.75],"nice":false,"zero":false},"axis":null},
  "y":{"field":"y","type":"quantitative","scale":{"domain":[-176.12,99.96],"nice":false,"zero":false},"axis":null}}},
{"data":{"name":"sun"},"transform":[{"filter":"datum.k == 'h' && datum.h % 2 == 1"}],
 "mark":{"type":"point","shape":"circle","filled":false,"stroke":"#108a10","strokeWidth":1.5,"size":90,"opacity":1},
 "encoding":{"x":{"field":"x","type":"quantitative","scale":{"domain":[-113.17,108.75],"nice":false,"zero":false},"axis":null},
  "y":{"field":"y","type":"quantitative","scale":{"domain":[-176.12,99.96],"nice":false,"zero":false},"axis":null}}},
{"data":{"name":"labels"},"transform":[{"filter":"datum.k == 'hour'"}],
 "mark":{"type":"text","fontSize":16,"font":"Liberation Sans","color":"#111111","align":"center","baseline":"middle"},
 "encoding":{"x":{"field":"x","type":"quantitative","scale":{"domain":[-113.17,108.75],"nice":false,"zero":false},"axis":null},
  "y":{"field":"y","type":"quantitative","scale":{"domain":[-176.12,99.96],"nice":false,"zero":false},"axis":null},
  "text":{"field":"t","type":"nominal"}}},
{"data":{"name":"labels"},"transform":[{"filter":"datum.k == 'date'"}],
 "mark":{"type":"text","fontSize":19,"font":"Liberation Sans","color":"#111111","align":"center","baseline":"middle"},
 "encoding":{"x":{"field":"x","type":"quantitative","scale":{"domain":[-113.17,108.75],"nice":false,"zero":false},"axis":null},
  "y":{"field":"y","type":"quantitative","scale":{"domain":[-176.12,99.96],"nice":false,"zero":false},"axis":null},
  "text":{"field":"t","type":"nominal"}}},
{"data":{"name":"labels"},"transform":[{"filter":"datum.k == 'dir'"}],
 "mark":{"type":"text","fontSize":25,"fontWeight":"bold","font":"Liberation Sans","color":"#000000","align":"center","baseline":"middle"},
 "encoding":{"x":{"field":"x","type":"quantitative","scale":{"domain":[-113.17,108.75],"nice":false,"zero":false},"axis":null},
  "y":{"field":"y","type":"quantitative","scale":{"domain":[-176.12,99.96],"nice":false,"zero":false},"axis":null},
  "text":{"field":"t","type":"nominal"}}},
{"data":{"name":"labels"},"transform":[{"filter":"datum.k == 'alt'"}],
 "mark":{"type":"text","fontSize":20,"fontWeight":"bold","font":"Liberation Sans","color":"#000000","align":"center","baseline":"middle"},
 "encoding":{"x":{"field":"x","type":"quantitative","scale":{"domain":[-113.17,108.75],"nice":false,"zero":false},"axis":null},
  "y":{"field":"y","type":"quantitative","scale":{"domain":[-176.12,99.96],"nice":false,"zero":false},"axis":null},
  "text":{"field":"t","type":"nominal"}}},
{"data":{"name":"labels"},"transform":[{"filter":"datum.k == 'title'"}],
 "mark":{"type":"text","fontSize":21,"fontWeight":"bold","font":"Liberation Sans","color":"#000000","align":"center","baseline":"middle"},
 "encoding":{"x":{"field":"x","type":"quantitative","scale":{"domain":[-113.17,108.75],"nice":false,"zero":false},"axis":null},
  "y":{"field":"y","type":"quantitative","scale":{"domain":[-176.12,99.96],"nice":false,"zero":false},"axis":null},
  "text":{"field":"t","type":"nominal"}}},
{"data":{"name":"legline"},
 "mark":{"type":"line","stroke":"#ff0000","strokeWidth":2},
 "encoding":{"x":{"field":"x","type":"quantitative","scale":{"domain":[-113.17,108.75],"nice":false,"zero":false},"axis":null},
  "y":{"field":"y","type":"quantitative","scale":{"domain":[-176.12,99.96],"nice":false,"zero":false},"axis":null}}},
{"data":{"name":"legdots"},
 "mark":{"type":"point","shape":"circle","filled":false,"strokeWidth":1,"size":26,"opacity":1},
 "encoding":{"x":{"field":"x","type":"quantitative","scale":{"domain":[-113.17,108.75],"nice":false,"zero":false},"axis":null},
  "y":{"field":"y","type":"quantitative","scale":{"domain":[-176.12,99.96],"nice":false,"zero":false},"axis":null},
  "stroke":{"field":"c","type":"nominal","scale":{"domain":["odd","even"],"range":["#108a10","#1010ff"]},"legend":null}}},
{"data":{"name":"swatches"},
 "mark":{"type":"rect"},
 "encoding":{"x":{"field":"x1","type":"quantitative","scale":{"domain":[-113.17,108.75],"nice":false,"zero":false},"axis":null},
  "x2":{"field":"x2"},
  "y":{"field":"y1","type":"quantitative","scale":{"domain":[-176.12,99.96],"nice":false,"zero":false},"axis":null},
  "y2":{"field":"y2"},
  "fill":{"field":"name","type":"nominal","scale":{"domain":["Gebaeude_Istzustand","Gebaeude_Planfall","Balkon_Teckstr_4","Laubbaum","Nadelbaum"],"range":["#c0c0c0","#808080","#80ffff","#00ff80","#008000"]},"legend":null}}},
{"data":{"name":"legtext"},
 "mark":{"type":"text","fontSize":22.7,"fontWeight":"bold","font":"Liberation Sans","color":"#000000","align":"left","baseline":"middle"},
 "encoding":{"x":{"field":"x","type":"quantitative","scale":{"domain":[-113.17,108.75],"nice":false,"zero":false},"axis":null},
  "y":{"field":"y","type":"quantitative","scale":{"domain":[-176.12,99.96],"nice":false,"zero":false},"axis":null},
  "text":{"field":"t","type":"nominal"}}}
]
}
